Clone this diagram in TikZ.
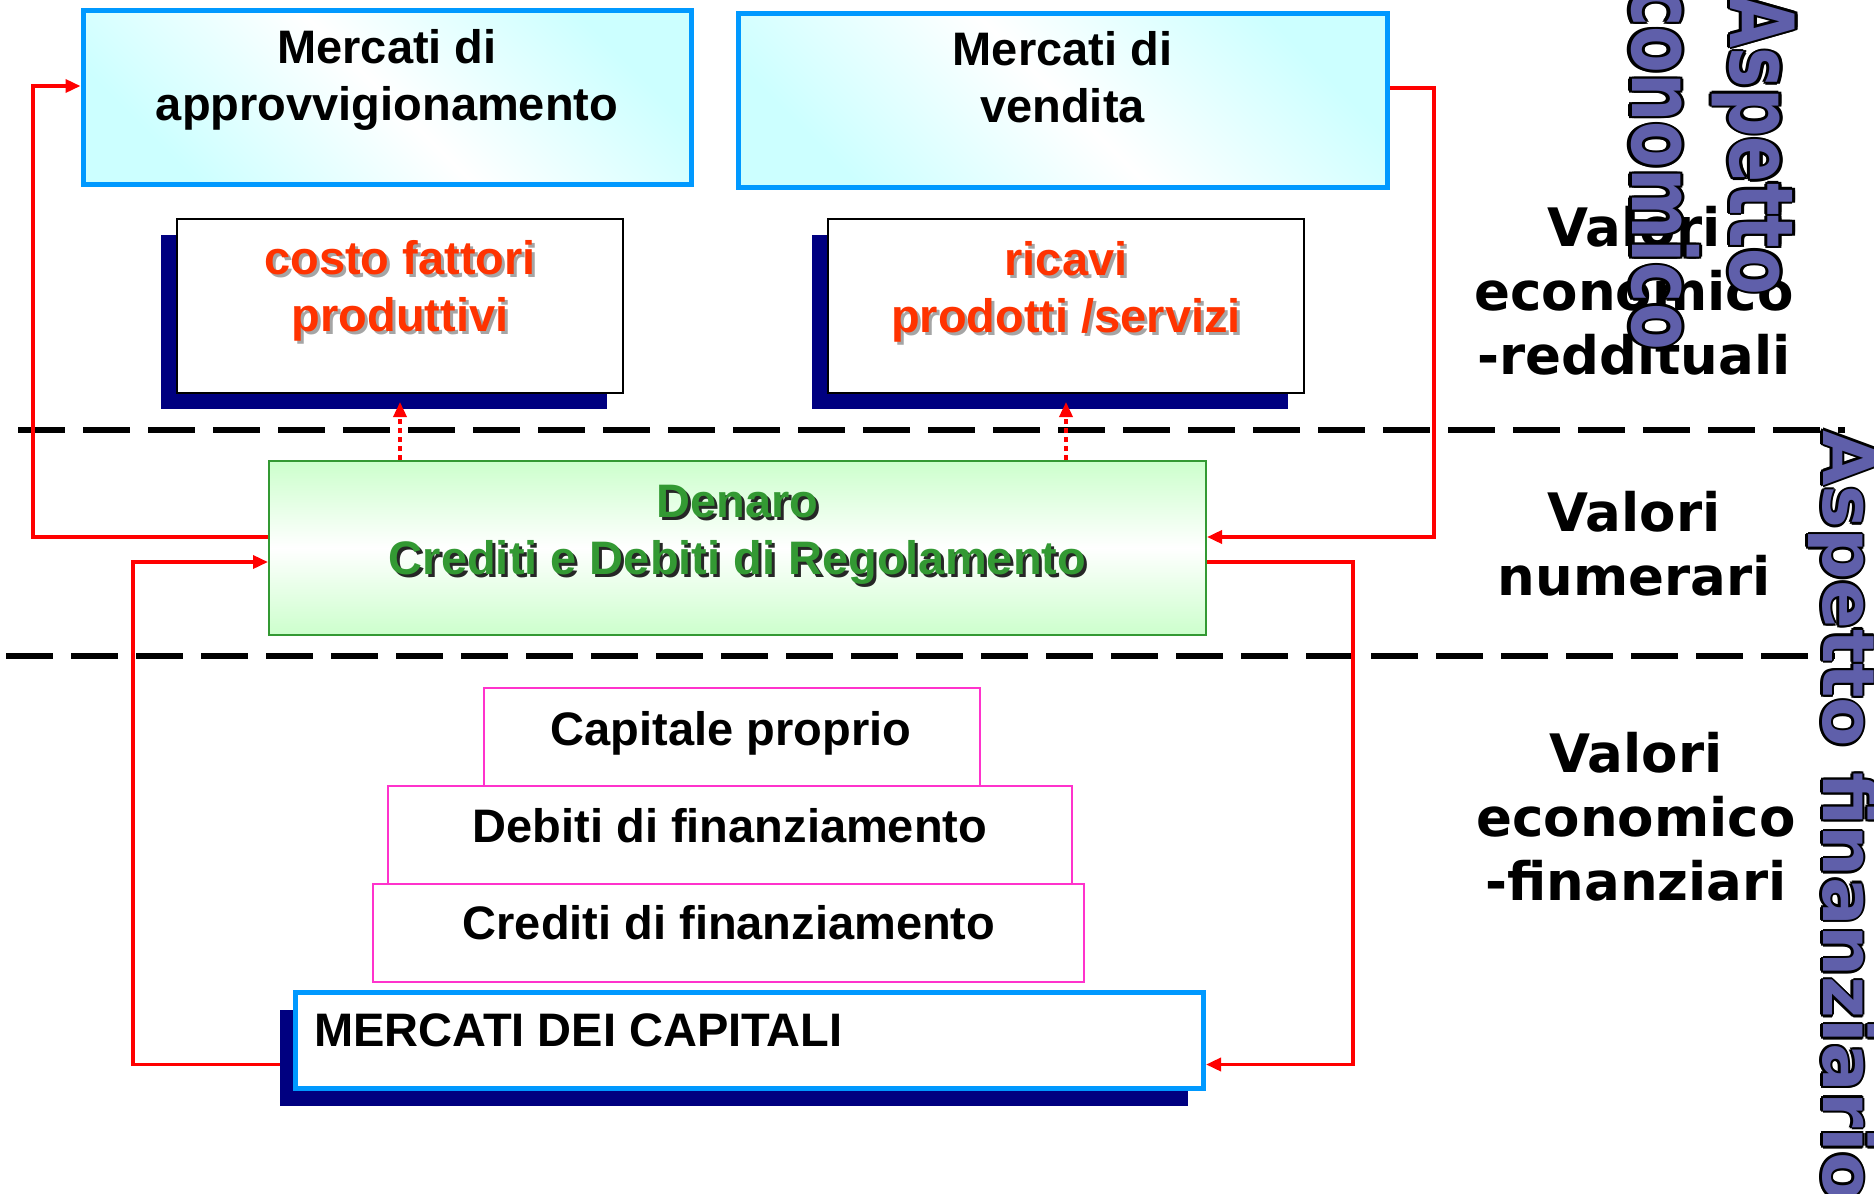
\documentclass[tikz,border=0pt]{standalone}
\usepackage{fontspec}
\usepackage{graphicx}
\usetikzlibrary{arrows.meta,shadows}
\newfontfamily\arialf{Liberation Sans}
\newfontfamily\verdf{DejaVu Sans}
\definecolor{mblue}{RGB}{0,153,255}
\definecolor{mcyan}{RGB}{204,255,255}
\definecolor{mnavy}{RGB}{0,0,128}
\definecolor{morange}{RGB}{255,51,0}
\definecolor{mgreen}{RGB}{51,153,51}
\definecolor{mgreenfill}{RGB}{204,255,204}
\definecolor{mpink}{RGB}{255,51,204}
\definecolor{masp}{RGB}{95,95,170}
\definecolor{mgrayshadow}{RGB}{165,165,165}
\newcommand\shtxt[2]{\leavevmode\rlap{\kern3pt\raisebox{-3pt}{\color{#1}#2}}#2}
\newcommand\outtxt[1]{\leavevmode
 \rlap{\kern2.4pt\color{black}#1}%
 \rlap{\kern-2.4pt\color{black}#1}%
 \rlap{\raisebox{2.4pt}{\color{black}#1}}%
 \rlap{\raisebox{-2.4pt}{\color{black}#1}}%
 \rlap{\kern1.7pt\raisebox{1.7pt}{\color{black}#1}}%
 \rlap{\kern-1.7pt\raisebox{1.7pt}{\color{black}#1}}%
 \rlap{\kern1.7pt\raisebox{-1.7pt}{\color{black}#1}}%
 \rlap{\kern-1.7pt\raisebox{-1.7pt}{\color{black}#1}}%
 {\color{masp}#1}}
\begin{document}
\begin{tikzpicture}[x=1pt,y=-1pt,
 mkt/.style={draw=mblue, line width=5pt, top color=mcyan, bottom color=mcyan, middle color=white, shading angle=-45, inner sep=0pt},
 shbox/.style={fill=white, draw=black, line width=2pt, inner sep=0pt, general shadow={fill=mnavy, shadow xshift=-16pt, shadow yshift=-16pt}},
 capbox/.style={fill=white, draw=mblue, line width=5pt, inner sep=0pt, general shadow={fill=mnavy, shadow xshift=-16pt, shadow yshift=-17pt}},
 denbox/.style={draw=mgreen, line width=2pt, top color=mgreenfill, bottom color=mgreenfill, middle color=white, inner sep=0pt},
 pinkbox/.style={draw=mpink, line width=2pt, fill=white, inner sep=0pt},
 btxt/.style={font=\arialf\bfseries\fontsize{47pt}{57pt}\selectfont, align=center, inner sep=0pt},
 vtxt/.style={font=\verdf\bfseries\fontsize{53pt}{64pt}\selectfont, align=center, inner sep=0pt},
 conn/.style={draw=red, line width=3.5pt, -{Triangle[length=15pt,width=13pt]}},
 dotconn/.style={draw=red, line width=3.5pt, dash pattern=on 5pt off 4pt, -{Triangle[length=15pt,width=13pt]}},
 divider/.style={draw=black, line width=6pt, dash pattern=on 47pt off 18pt},
]
\useasboundingbox (0,0) rectangle (1874,1194);
\clip (0,0) rectangle (1874,1194);
\fill[white] (0,0) rectangle (1874,1194);

% dividers
\coordinate (d1a) at (18,430);
\coordinate (d1b) at (1845,430);
\coordinate (d2a) at (6,656);
\coordinate (d2b) at (1835,656);
\draw[divider] (d1a) -- (d1b);
\draw[divider] (d2a) -- (d2b);

% box nodes (positions)
\path (387,97) node[mkt, minimum width=608pt, minimum height=174pt] (appro) {};
\path (1062.5,100) node[mkt, minimum width=649pt, minimum height=174pt] (vendita) {};
\path (737.5,548) node[denbox, minimum width=937pt, minimum height=174pt] (denaro) {};
\path (749.5,1040.5) node[capbox, minimum width=908pt, minimum height=96pt] (capitali) {};

% red connectors
\coordinate (lx1) at (33,0);
\coordinate (rx1) at (1434,0);
\coordinate (lx2) at (133,0);
\coordinate (rx2) at (1353,0);
\coordinate (dw1) at ([yshift=11pt]denaro.west);
\coordinate (dw2) at ([yshift=-14pt]denaro.west);
\coordinate (de1) at ([yshift=11pt]denaro.east);
\coordinate (de2) at ([yshift=-14pt]denaro.east);
\coordinate (aw) at ([yshift=11pt]appro.west);
\coordinate (ve) at ([yshift=12pt]vendita.east);
\coordinate (cw) at ([yshift=-24pt]capitali.west);
\coordinate (ce) at ([yshift=-24pt]capitali.east);
\draw[conn] (dw1) -- (dw1 -| lx1) -- (aw -| lx1) -- (aw);
\draw[conn] (ve) -- (ve -| rx1) -- (de1 -| rx1) -- (de1);
\draw[conn] (cw) -- (cw -| lx2) -- (dw2 -| lx2) -- (dw2);
\draw[conn] (de2) -- (de2 -| rx2) -- (ce -| rx2) -- (ce);

% redraw boxes above connectors
\path (387,97) node[mkt, minimum width=608pt, minimum height=174pt] (approbox) {};
\path (1062.5,100) node[mkt, minimum width=649pt, minimum height=174pt] (vendbox) {};
\path (737.5,548) node[denbox, minimum width=937pt, minimum height=174pt] (denbox) {};
\path (749.5,1040.5) node[capbox, minimum width=908pt, minimum height=96pt] (capbox) {};
\path (400,306) node[shbox, minimum width=446pt, minimum height=174pt] (costo) {};
\path (1066,306) node[shbox, minimum width=476pt, minimum height=174pt] (ricavi) {};
\path (728.5,933) node[pinkbox, minimum width=711pt, minimum height=98pt] (crediti) {};
\path (730,835) node[pinkbox, minimum width=684pt, minimum height=98pt] (debiti) {};
\path (732,737) node[pinkbox, minimum width=496pt, minimum height=98pt] (capitale) {};

% texts
\node[btxt] (approtext) at (387,79.5) {Mercati di\\approvvigionamento};
\node[btxt] (vendtext) at (1062.5,77.5) {Mercati di\\vendita};
\node[btxt, text=morange] (costotext) at (400,292) {\shtxt{mgrayshadow}{costo fattori}\\\shtxt{mgrayshadow}{produttivi}};
\node[btxt, text=morange] (ricavitext) at (1066,293) {\shtxt{mgrayshadow}{ricavi}\\\shtxt{mgrayshadow}{prodotti /servizi}};
\node[btxt, text=mgreen] (denarotext) at (737.5,536) {\shtxt{black!85}{Denaro}\\\shtxt{black!85}{Crediti e Debiti di Regolamento}};
\node[btxt] (capitaletext) at (731,733) {Capitale proprio};
\node[btxt] (debititext) at (730,826) {Debiti di finanziamento};
\node[btxt] (creditistext) at (729,923) {Crediti di finanziamento};
\node[btxt, anchor=west] (capitalitext) at (314,1030) {MERCATI DEI CAPITALI};

% dotted arrows
\draw[dotconn, shorten >=8pt] (denaro.north -| costo.south) -- (costo.south);
\draw[dotconn, shorten >=8pt] (denaro.north -| ricavi.south) -- (ricavi.south);

% right labels
\node[vtxt] (valred) at (1634,291) {Valori\\economico\\-reddituali};
\node[vtxt] (valnum) at (1634,544) {Valori\\numerari};
\node[vtxt] (valfin) at (1636,817) {Valori\\economico\\-finanziari};

% rotated aspects
\node[font=\verdf\bfseries\fontsize{68pt}{76pt}\selectfont, align=center, inner sep=0pt, rotate=-90, yscale=1.3] (aspeco) at (1713,145) {\outtxt{Aspetto}\\\outtxt{economico}};
\node[font=\verdf\bfseries\fontsize{72pt}{86pt}\selectfont, inner sep=0pt, rotate=-90, anchor=base west] (aspfin) at (1823,430) {\outtxt{Aspetto finanziario}};
\end{tikzpicture}
\end{document}
